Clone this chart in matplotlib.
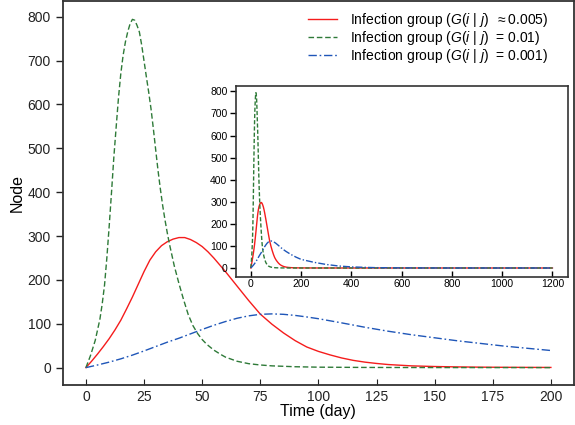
import matplotlib
matplotlib.use("Agg")
import matplotlib.pyplot as plt

plt.rcParams['font.family'] = ['Liberation Sans', 'DejaVu Sans']
plt.rcParams['mathtext.fontset'] = 'custom'
plt.rcParams['mathtext.rm'] = 'Liberation Sans'
plt.rcParams['mathtext.it'] = 'Liberation Sans:italic'

# ---- data ----
red_days = [0, 2.5, 5, 7.5, 10, 12.5, 15, 17.5, 20, 22.5, 25, 27.5, 30, 32.5,
            35, 37.5, 40, 42.5, 45, 47.5, 50, 52.5, 55, 60, 65, 70, 75, 80, 85,
            90, 95, 100, 105, 110, 115, 120, 125, 130, 140, 150, 160, 170, 180,
            190, 200]
red = [0, 15, 31, 48, 66, 86, 108, 134, 161, 190, 219, 245, 264, 278,
       287, 293, 296.5, 296.5, 292, 285, 276, 264, 250, 219, 186, 153, 122, 99,
       79, 61.5, 47, 37, 29, 22, 16.5, 12.5, 9.5, 7, 4, 2.5, 1.6, 1.0, 0.7,
       0.5, 0.4]

green_days = [0, 2, 4, 6, 7, 8, 9, 10, 11, 12, 13, 14, 15, 16, 17, 18, 19, 20,
              21, 22, 23, 24, 25, 26, 27, 28, 29, 30, 31, 32, 33, 34, 35, 36,
              38, 40, 42, 44, 46, 48, 50, 52, 55, 58, 60, 65, 70, 75, 80, 90,
              100, 120, 150, 200]
green = [0, 28, 62, 110, 145, 188, 250, 322, 399, 479, 548, 615, 670, 712, 743,
         766, 784, 794, 792, 780, 765, 735, 699, 663, 628, 590, 545, 497, 450,
         408, 370, 337, 307, 280, 232, 192, 155, 121, 96, 78, 64, 53, 40, 30,
         24, 14.5, 9, 6, 4, 2, 1, 0.4, 0.1, 0]

blue_days = [0, 5, 10, 15, 20, 25, 30, 35, 40, 45, 50, 55, 60, 65, 70, 75, 80,
             85, 90, 95, 100, 110, 120, 130, 140, 150, 160, 170, 180, 190, 200]
blue = [0, 6, 12.5, 20, 28.5, 38, 48, 58, 67, 77, 87, 96.5, 105, 112.5, 118,
        121.5, 122.5, 121.5, 119, 115.5, 111.5, 102, 92, 83, 75, 68, 61, 55, 49,
        44, 39]

# tail shown only in the inset (days beyond 200)
tail_days = [250, 300, 350, 400, 450, 500, 600, 700, 800, 900, 1000, 1100, 1200]
tail_red = [0.1, 0, 0, 0, 0, 0, 0, 0, 0, 0, 0, 0, 0]
tail_green = [0, 0, 0, 0, 0, 0, 0, 0, 0, 0, 0, 0, 0]
tail_blue = [26, 16, 9, 5, 3, 1.5, 0.5, 0.2, 0, 0, 0, 0, 0]

labels = [r'Infection group ($G$($i$ | $j$)  $\approx$0.005)',
          r'Infection group ($G$($i$ | $j$)  = 0.01)',
          r'Infection group ($G$($i$ | $j$)  = 0.001)']

main_xticks = [0, 25, 50, 75, 100, 125, 150, 175, 200]
main_yticks = [0, 100, 200, 300, 400, 500, 600, 700, 800]
inset_xticks = [0, 200, 400, 600, 800, 1000, 1200]
inset_yticks = [0, 100, 200, 300, 400, 500, 600, 700, 800]

c_red = '#f51c1c'
c_green = '#2e7a38'
c_blue = '#1f56b8'
spine_c = '#333333'

fig = plt.figure(figsize=(5.75, 4.25), dpi=100)
ax = fig.add_axes([0.109, 0.094, 0.8895, 0.9025])

ax.plot(red_days, red, color=c_red, lw=1.0, label=labels[0])
ax.plot(green_days, green, color=c_green, lw=1.0, ls=(0, (4, 2)), label=labels[1])
ax.plot(blue_days, blue, color=c_blue, lw=1.0, ls=(0, (6, 2, 1.2, 2)), label=labels[2])

ax.set_xlim(-10, 210)
ax.set_ylim(-39.75, 834.75)
ax.set_xticks(main_xticks)
ax.set_yticks(main_yticks)
ax.tick_params(axis='y', direction='out', length=5, width=1, colors='#222222',
               labelsize=10)
ax.tick_params(axis='x', direction='in', length=4, width=0.8, colors='#222222',
               labelsize=10)
for s in ax.spines.values():
    s.set_color(spine_c)
    s.set_linewidth(1.3)
ax.set_xlabel('Time (day)', fontsize=11.5, labelpad=0)
ax.set_ylabel('Node', fontsize=11.5, labelpad=2)

leg = ax.legend(loc='upper right', bbox_to_anchor=(0.9595, 0.989),
                frameon=False, fontsize=10, handlelength=2.1,
                labelspacing=0.0, borderaxespad=0.0, borderpad=0.4,
                handletextpad=0.9)

# ---- inset ----
ins = fig.add_axes([0.41, 0.349, 0.577, 0.449])
ins.plot(red_days + tail_days, red + tail_red, color=c_red, lw=1.0)
ins.plot(green_days + tail_days[1:], green + tail_green[1:], color=c_green,
         lw=1.0, ls=(0, (3, 1.5)))
ins.plot(blue_days + tail_days, blue + tail_blue, color=c_blue, lw=1.0,
         ls=(0, (5, 1.5, 1, 1.5)))
ins.set_xlim(-60, 1260)
ins.set_ylim(-39.3, 825)
ins.set_xticks(inset_xticks)
ins.set_yticks(inset_yticks)
ins.tick_params(axis='y', direction='out', length=4, width=1, labelsize=7.5, pad=2)
ins.tick_params(axis='x', direction='in', length=4, width=1, labelsize=7.5, pad=2)
for s in ins.spines.values():
    s.set_color('#333333')
    s.set_linewidth(1.2)

fig.savefig('out.png', dpi=100)
